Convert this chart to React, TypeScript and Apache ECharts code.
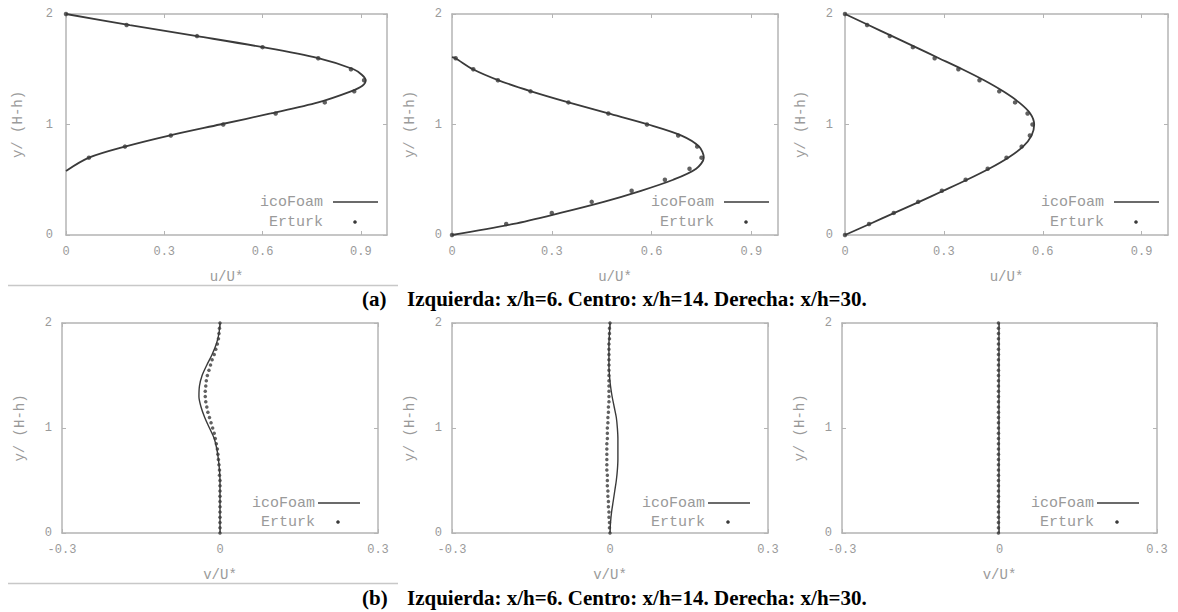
import React, { useEffect, useRef } from "react";
import * as echarts from "echarts";

// ---------- data ----------
const Y_TENTHS = [0, 0.1, 0.2, 0.3, 0.4, 0.5, 0.6, 0.7, 0.8, 0.9, 1.0, 1.1, 1.2, 1.3, 1.4, 1.5, 1.6, 1.7, 1.8, 1.9, 2.0];
const Y_FINE = [0, 0.05, 0.1, 0.15, 0.2, 0.25, 0.3, 0.35, 0.4, 0.45, 0.5, 0.55, 0.6, 0.65, 0.7, 0.75, 0.8, 0.85, 0.9, 0.95, 1.0,
  1.05, 1.1, 1.15, 1.2, 1.25, 1.3, 1.35, 1.4, 1.45, 1.5, 1.55, 1.6, 1.65, 1.7, 1.75, 1.8, 1.85, 1.9, 1.95, 2.0];

// (a) u/U* profiles
const x6LineY = [0.58, 0.7, 0.8, 0.9, 1.0, 1.1, 1.2, 1.3, 1.35, 1.4, 1.45, 1.5, 1.6, 1.7, 1.8, 1.9, 2.0];
const x6LineU = [0, 0.07, 0.18, 0.315, 0.47, 0.625, 0.77, 0.87, 0.905, 0.915, 0.903, 0.878, 0.77, 0.6, 0.4, 0.195, 0];
const x6ErturkY = [0.7, 0.8, 0.9, 1.0, 1.1, 1.2, 1.3, 1.4, 1.5, 1.6, 1.7, 1.8, 1.9, 2.0];
const x6ErturkU = [0.07, 0.18, 0.32, 0.48, 0.64, 0.79, 0.88, 0.91, 0.87, 0.77, 0.6, 0.4, 0.185, 0];

const x14LineY = [0, 0.1, 0.2, 0.3, 0.4, 0.5, 0.6, 0.7, 0.8, 0.9, 1.0, 1.1, 1.2, 1.3, 1.4, 1.5, 1.6, 1.61];
const x14LineU = [0, 0.185, 0.326, 0.456, 0.568, 0.665, 0.734, 0.757, 0.743, 0.69, 0.59, 0.47, 0.35, 0.238, 0.14, 0.063, 0.01, 0];
const x14ErturkY = [0, 0.1, 0.2, 0.3, 0.4, 0.5, 0.6, 0.7, 0.8, 0.9, 1.0, 1.1, 1.2, 1.3, 1.4, 1.5, 1.6];
const x14ErturkU = [0, 0.163, 0.3, 0.42, 0.54, 0.64, 0.714, 0.75, 0.737, 0.68, 0.586, 0.47, 0.35, 0.236, 0.138, 0.064, 0.011];

const x30LineU = [0, 0.075, 0.15, 0.225, 0.298, 0.37, 0.437, 0.495, 0.54, 0.566, 0.574, 0.562, 0.528, 0.48, 0.422, 0.356, 0.285, 0.214, 0.143, 0.071, 0];
const x30ErturkU = [0, 0.073, 0.148, 0.222, 0.294, 0.366, 0.433, 0.49, 0.536, 0.561, 0.569, 0.554, 0.516, 0.468, 0.408, 0.344, 0.272, 0.206, 0.136, 0.067, 0];

// (b) v/U* profiles
const x6LineV = [0, 0, 0, 0, 0, 0, -0.001, -0.003, -0.006, -0.011, -0.02, -0.029, -0.036, -0.04, -0.039, -0.034, -0.025, -0.015, -0.007, -0.002, 0];
const x6ErturkV = [0, 0, 0, 0, 0, 0, 0, 0, 0, 0, 0, -0.001, -0.001, -0.002, -0.003, -0.004, -0.005, -0.007, -0.009, -0.011, -0.014,
  -0.017, -0.02, -0.023, -0.025, -0.027, -0.028, -0.028, -0.027, -0.026, -0.024, -0.021, -0.018, -0.015, -0.011, -0.008, -0.005, -0.003, -0.002, -0.001, 0];

const x14LineV = [0, 0.001, 0.003, 0.006, 0.009, 0.012, 0.014, 0.015, 0.015, 0.015, 0.014, 0.012, 0.008, 0.004, 0.001, -0.001, -0.002, -0.002, -0.002, -0.001, 0];
const x14ErturkV = [0, -0.001, -0.001, -0.002, -0.002, -0.003, -0.003, -0.004, -0.004, -0.005, -0.005, -0.005, -0.006, -0.006, -0.006, -0.006, -0.006, -0.006, -0.005, -0.005, -0.005,
  -0.004, -0.004, -0.003, -0.003, -0.002, -0.002, -0.002, -0.002, -0.002, -0.002, -0.002, -0.002, -0.002, -0.002, -0.002, -0.002, -0.001, -0.001, -0.001, 0];

const x30LineV = [-0.001, -0.001, -0.001, -0.001, -0.001, -0.001, -0.001, -0.001, -0.001, -0.001, -0.001, -0.001, -0.001, -0.001, -0.001, -0.001, -0.001, -0.001, -0.001, -0.001, -0.001];
const x30ErturkV = [-0.002, -0.002, -0.002, -0.002, -0.002, -0.002, -0.002, -0.002, -0.002, -0.002, -0.002, -0.002, -0.002, -0.002, -0.002, -0.002, -0.002, -0.002, -0.002, -0.002, -0.002,
  -0.002, -0.002, -0.002, -0.002, -0.002, -0.002, -0.002, -0.002, -0.002, -0.002, -0.002, -0.002, -0.002, -0.002, -0.002, -0.002, -0.002, -0.002, -0.002, -0.002];

const uTicksMax = 0.98;
const vRange = [-0.3, 0.3];
const legendNames = ["icoFoam", "Erturk"];
const yTitle = "y/ (H-h)";
const captionLabels = ["(a)", "(b)"];
const captionText = "Izquierda: x/h=6. Centro: x/h=14. Derecha: x/h=30.";

const pair = (xs: number[], ys: number[]) => xs.map((x, i) => [x, ys[i]]);

const panelData = [
  { line: pair(x6LineU, x6LineY), pts: pair(x6ErturkU, x6ErturkY), xName: "u/U*" },
  { line: pair(x14LineU, x14LineY), pts: pair(x14ErturkU, x14ErturkY), xName: "u/U*" },
  { line: pair(x30LineU, Y_TENTHS), pts: pair(x30ErturkU, Y_TENTHS), xName: "u/U*" },
  { line: pair(x6LineV, Y_TENTHS), pts: pair(x6ErturkV, Y_FINE), xName: "v/U*" },
  { line: pair(x14LineV, Y_TENTHS), pts: pair(x14ErturkV, Y_FINE), xName: "v/U*" },
  { line: pair(x30LineV, Y_TENTHS), pts: pair(x30ErturkV, Y_FINE), xName: "v/U*" },
];

// ---------- layout ----------
const layout = [
  { left: 66, top: 14, width: 321, height: 221, row: 0, yGap: 41, yMargin: 13 },
  { left: 452, top: 14, width: 326, height: 221, row: 0, yGap: 35, yMargin: 10 },
  { left: 845, top: 14, width: 323, height: 221, row: 0, yGap: 37, yMargin: 12 },
  { left: 62, top: 323, width: 316, height: 210, row: 1, yGap: 35, yMargin: 10 },
  { left: 452, top: 323, width: 316, height: 210, row: 1, yGap: 35, yMargin: 10 },
  { left: 842, top: 323, width: 315, height: 210, row: 1, yGap: 35, yMargin: 10 },
];

const MONO = '"Liberation Mono", "DejaVu Sans Mono", monospace';
const SERIF = '"Liberation Serif", "Times New Roman", serif';
const BORDER = "#b4b4b4";
const TEXT = "#9a9a9a";
const CURVE = "#3a3a3a";

export default function App() {
  const ref = useRef<HTMLDivElement>(null);
  useEffect(() => {
    if (!ref.current) return;
    const chart = echarts.init(ref.current, undefined, { renderer: "svg" });

    const grid: any[] = [];
    const xAxis: any[] = [];
    const yAxis: any[] = [];
    const series: any[] = [];
    const graphic: any[] = [];

    layout.forEach((p, i) => {
      grid.push({ left: p.left, top: p.top, width: p.width, height: p.height, containLabel: false });
      const top = p.row === 0;
      const xBase = {
        gridIndex: i,
        type: "value",
        min: top ? 0 : vRange[0],
        max: top ? uTicksMax : vRange[1],
        interval: 0.3,
        splitLine: { show: false },
        axisLine: { show: true, onZero: false, lineStyle: { color: BORDER, width: 1.5 } },
        axisTick: { show: true, inside: true, length: 4, lineStyle: { color: BORDER } },
      };
      xAxis.push({
        ...xBase,
        position: "bottom",
        axisLabel: {
          color: TEXT, fontFamily: MONO, fontSize: 12, margin: 11,
          showMaxLabel: top ? false : true,
          formatter: (v: number) => String(Math.round(v * 10) / 10),
        },
        name: panelData[i].xName,
        nameLocation: "middle",
        nameGap: 35,
        nameTextStyle: { color: TEXT, fontFamily: MONO, fontSize: 14 },
      });
      xAxis.push({ ...xBase, position: "top", axisLabel: { show: false } });
      const yBase = {
        gridIndex: i,
        type: "value",
        min: 0,
        max: 2,
        interval: 1,
        splitLine: { show: false },
        axisLine: { show: true, onZero: false, lineStyle: { color: BORDER, width: 1.5 } },
        axisTick: { show: true, inside: true, length: 4, lineStyle: { color: BORDER } },
      };
      yAxis.push({
        ...yBase,
        position: "left",
        axisLabel: { color: TEXT, fontFamily: MONO, fontSize: 12, margin: p.yMargin },
        name: yTitle,
        nameLocation: "middle",
        nameGap: p.yGap,
        nameTextStyle: { color: TEXT, fontFamily: MONO, fontSize: 14 },
      });
      yAxis.push({ ...yBase, position: "right", axisLabel: { show: false } });

      series.push({
        type: "line",
        name: legendNames[0],
        xAxisIndex: 2 * i,
        yAxisIndex: 2 * i,
        data: panelData[i].line,
        smooth: 0.3,
        showSymbol: false,
        lineStyle: { color: CURVE, width: top ? 1.8 : 1.4 },
        z: 2,
      });
      series.push({
        type: "scatter",
        name: legendNames[1],
        xAxisIndex: 2 * i,
        yAxisIndex: 2 * i,
        data: panelData[i].pts,
        symbol: "circle",
        symbolSize: top ? 4.5 : 3.5,
        itemStyle: { color: CURVE },
        z: 3,
      });

      // legend (gnuplot style: text, then sample to the right)
      const right = p.left + p.width;
      const bottom = p.top + p.height;
      const textX = right - (top ? 64 : 63);
      const r1 = bottom - (top ? 33 : 30);
      const r2 = bottom - (top ? 13 : 11);
      const l1 = right - (top ? 54 : 60);
      const l2 = right - (top ? 9 : 18);
      const dotX = right - (top ? 32 : 40);
      const ts = { fontFamily: MONO, fontSize: 15, fill: TEXT, align: "right", verticalAlign: "middle" };
      graphic.push({ type: "text", x: textX, y: r1, style: { ...ts, text: legendNames[0] } });
      graphic.push({ type: "text", x: textX, y: r2, style: { ...ts, text: legendNames[1] } });
      graphic.push({ type: "line", shape: { x1: l1, y1: r1, x2: l2, y2: r1 }, style: { stroke: CURVE, lineWidth: 1.3 } });
      graphic.push({ type: "circle", shape: { cx: dotX, cy: r2, r: 1.8 }, style: { fill: CURVE } });
    });

    // separators and captions
    [285.5, 583.5].forEach((y, k) => {
      graphic.push({ type: "line", shape: { x1: 8, y1: y, x2: 398, y2: y }, style: { stroke: "#c8c8c8", lineWidth: 1.5 } });
      const cy = k === 0 ? 299 : 598;
      graphic.push({
        type: "text", x: 362, y: cy,
        style: { text: captionLabels[k], fontFamily: SERIF, fontWeight: "bold", fontSize: 21, fill: "#000", verticalAlign: "middle" },
      });
      graphic.push({
        type: "text", x: 407, y: cy,
        style: { text: captionText, fontFamily: SERIF, fontWeight: "bold", fontSize: 21, fill: "#000", verticalAlign: "middle" },
      });
    });

    chart.setOption({
      animation: false,
      backgroundColor: "#ffffff",
      grid,
      xAxis,
      yAxis,
      series,
      graphic,
    });
    return () => chart.dispose();
  }, []);
  return <div ref={ref} style={{ position: "fixed", left: 0, top: 0, width: 1178, height: 612 }} />;
}
